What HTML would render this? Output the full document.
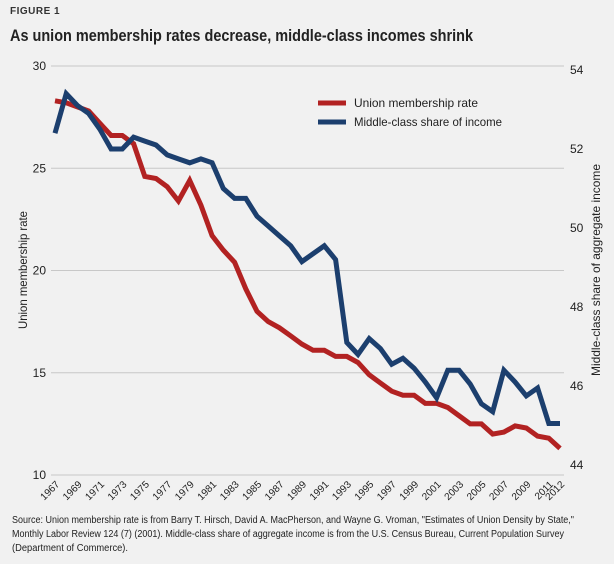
<!DOCTYPE html>
<html><head><meta charset="utf-8"><style>
body{margin:0;background:#f1f1f1;}
svg{display:block;font-family:"Liberation Sans",sans-serif;}
</style></head><body>
<svg id="c" width="614" height="564">
<text x="10" y="14" font-size="10" font-weight="bold" fill="#333" letter-spacing="0.5">FIGURE 1</text>
<text x="10" y="41" font-size="17" font-weight="bold" fill="#222" textLength="463" lengthAdjust="spacingAndGlyphs">As union membership rates decrease, middle-class incomes shrink</text>
<g id="grid"></g><g id="axes"></g><g id="lines"></g>
<g>
<line x1="318" y1="103" x2="346" y2="103" stroke="#b22222" stroke-width="5"/>
<text x="354" y="107" font-size="12" fill="#222" textLength="124" lengthAdjust="spacingAndGlyphs">Union membership rate</text>
<line x1="318" y1="122" x2="346" y2="122" stroke="#1c3f6e" stroke-width="5"/>
<text x="354" y="126" font-size="12" fill="#222" textLength="148" lengthAdjust="spacingAndGlyphs">Middle-class share of income</text>
</g>
<text transform="translate(27,270) rotate(-90)" text-anchor="middle" font-size="12" fill="#222" textLength="118" lengthAdjust="spacingAndGlyphs">Union membership rate</text>
<text transform="translate(600,270) rotate(-90)" text-anchor="middle" font-size="12" fill="#222" textLength="212" lengthAdjust="spacingAndGlyphs">Middle-class share of aggregate income</text>
<text font-size="10" fill="#222">
<tspan x="12" y="523" textLength="562" lengthAdjust="spacingAndGlyphs">Source: Union membership rate is from Barry T. Hirsch, David A. MacPherson, and Wayne G. Vroman, "Estimates of Union Density by State,"</tspan>
<tspan x="12" y="537" textLength="552" lengthAdjust="spacingAndGlyphs">Monthly Labor Review 124 (7) (2001). Middle-class share of aggregate income is from the U.S. Census Bureau, Current Population Survey</tspan>
<tspan x="12" y="551" textLength="116" lengthAdjust="spacingAndGlyphs">(Department of Commerce).</tspan>
</text>
</svg>
<script>
const years=[];for(let y=1967;y<=2012;y++)years.push(y);
const union=[28.3,28.2,28.0,27.8,27.2,26.6,26.6,26.2,24.6,24.5,24.1,23.4,24.4,23.2,21.7,21.0,20.4,19.1,18.0,17.5,17.2,16.8,16.4,16.1,16.1,15.8,15.8,15.5,14.9,14.5,14.1,13.9,13.9,13.5,13.5,13.3,12.9,12.5,12.5,12.0,12.1,12.4,12.3,11.9,11.8,11.3];
const middle=[52.4,53.4,53.1,52.9,52.5,52.0,52.0,52.3,52.2,52.1,51.85,51.75,51.65,51.75,51.65,51.0,50.75,50.75,50.3,50.05,49.8,49.55,49.15,49.35,49.55,49.2,47.1,46.8,47.2,46.95,46.55,46.7,46.45,46.1,45.7,46.4,46.4,46.05,45.55,45.35,46.4,46.1,45.75,45.95,45.05,45.05];
const leftTicks=[10,15,20,25,30];
const rightTicks=[44,46,48,50,52,54];
const tickYears=[1967,1969,1971,1973,1975,1977,1979,1981,1983,1985,1987,1989,1991,1993,1995,1997,1999,2001,2003,2005,2007,2009,2011,2012];
const NS="http://www.w3.org/2000/svg";
const xS=y=>55+(y-1967)*(560-55)/45;
const yL=v=>475-(v-10)*(409/20);
const yR=v=>465-(v-44)*(395/10);
function mk(t,a,p){const e=document.createElementNS(NS,t);for(const k in a)e.setAttribute(k,a[k]);p.appendChild(e);return e;}
const grid=document.getElementById('grid'),axes=document.getElementById('axes'),lines=document.getElementById('lines');
leftTicks.forEach(v=>{
const l=mk('line',{x1:51,x2:564,y1:yL(v),y2:yL(v),stroke:'#c8c8c8','stroke-width':1},grid);


const t=mk('text',{x:46,y:yL(v)+4,'text-anchor':'end','font-size':12,fill:'#222'},axes);t.textContent=v;


});
rightTicks.forEach(v=>{
const t=mk('text',{x:570,y:yR(v)+4,'font-size':12,fill:'#222'},axes);t.textContent=v;


});
tickYears.forEach(y=>{
const x=xS(y);
const t=mk('text',{x:0,y:0,'text-anchor':'end','font-size':10,fill:'#222',transform:`translate(${x+5},${485}) rotate(-45)`},axes);t.textContent=y;


});
function path(vals,ys,col,name){
const d=vals.map((v,i)=>(i?'L':'M')+xS(years[i]).toFixed(1)+','+ys(v).toFixed(1)).join('');
const p=mk('path',{d:d,fill:'none',stroke:col,'stroke-width':5,'stroke-linejoin':'miter'},lines);


}
path(union,yL,'#b22222','union-line');
path(middle,yR,'#1c3f6e','middle-class-line');
</script>
</body></html>
